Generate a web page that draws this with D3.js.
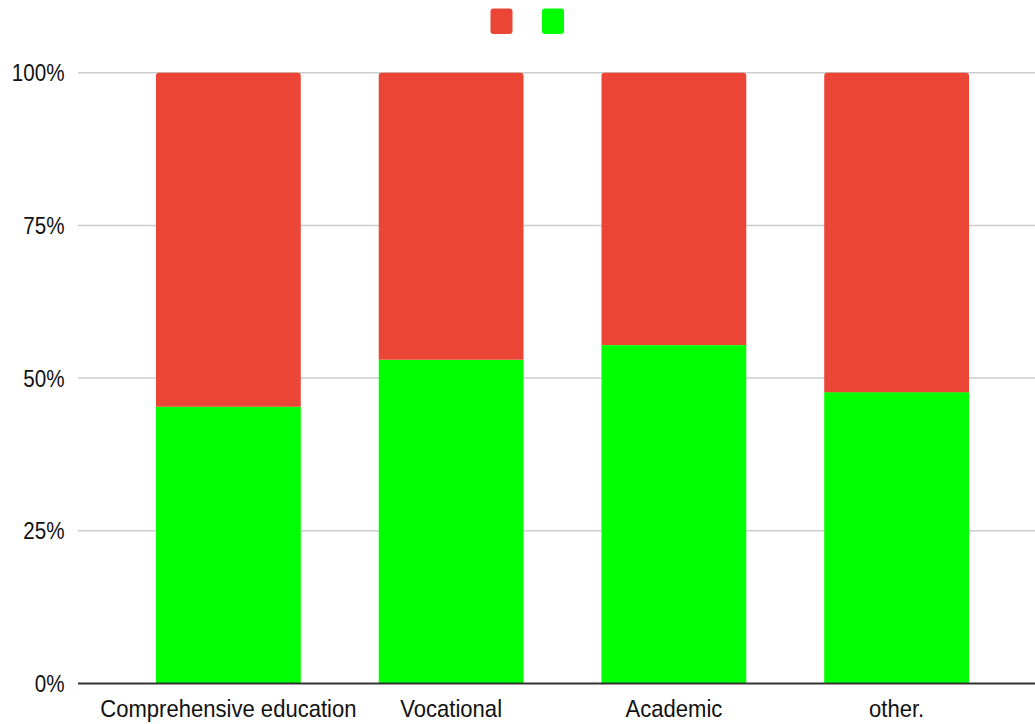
<!DOCTYPE html>
<html><head><meta charset="utf-8">
<script src="https://cdn.jsdelivr.net/npm/d3@7"></script>
<style>body{margin:0;background:#fff}svg{display:block}text{font-family:"Liberation Sans",Arial,sans-serif;fill:#111}</style>
</head><body><svg id="c" width="1035" height="724"></svg>
<script>
const categories = ["Comprehensive education","Vocational","Academic","other."];
const greenShare = [0.453, 0.530, 0.554, 0.477];
const redShare = [0.547, 0.470, 0.446, 0.523];
const yTicks = [0, 0.25, 0.5, 0.75, 1];
const yTickLabels = ["0%","25%","50%","75%","100%"];
const seriesColors = ["#ea4535", "#00ff00"];

const svg = d3.select("#c");
const x = d3.scaleBand().domain(categories).range([117, 1008]).paddingInner(0.35).paddingOuter(0.175);
const y = d3.scaleLinear().domain([0,1]).range([683.5, 72.7]);

// gridlines
svg.append("g").selectAll("line").data(yTicks.slice(1)).join("line")
  .attr("x1",78).attr("x2",1035).attr("y1",d=>y(d)).attr("y2",d=>y(d))
  .attr("stroke","#cccccc").attr("stroke-width",1.5);

// y labels
svg.append("g").selectAll("text").data(yTicks).join("text")
  .attr("transform",d=>`translate(64.5,${y(d)+8.5}) scale(0.86,1)`)
  .attr("text-anchor","end")
  .attr("font-size",24).text((d,i)=>yTickLabels[i]);

const r = 3;
categories.forEach((c,i)=>{
  const x0 = x(c), w = x.bandwidth();
  const g = greenShare[i], rd = redShare[i];
  svg.append("rect").attr("x",x0).attr("width",w).attr("y",y(g)).attr("height",y(0)-y(g)).attr("fill",seriesColors[1]);
  const top = y(g+rd), bot = y(g);
  svg.append("path").attr("fill",seriesColors[0]).attr("d",
    `M${x0},${bot}V${top+r}Q${x0},${top} ${x0+r},${top}H${x0+w-r}Q${x0+w},${top} ${x0+w},${top+r}V${bot}Z`);
});

// baseline axis
svg.append("line").attr("x1",78).attr("x2",1035).attr("y1",y(0)).attr("y2",y(0)).attr("stroke","#333").attr("stroke-width",2);

// x labels
svg.append("g").selectAll("text").data(categories).join("text")
  .attr("transform",d=>`translate(${x(d)+x.bandwidth()/2},717) scale(0.92,1)`)
  .attr("text-anchor","middle")
  .attr("font-size",24).text(d=>d);

// legend
const lx = [490.5, 542];
seriesColors.forEach((col,i)=>{
  svg.append("rect").attr("x",lx[i]).attr("y",8.5).attr("width",22).attr("height",25.5).attr("rx",3).attr("fill",col);
});
</script></body></html>
